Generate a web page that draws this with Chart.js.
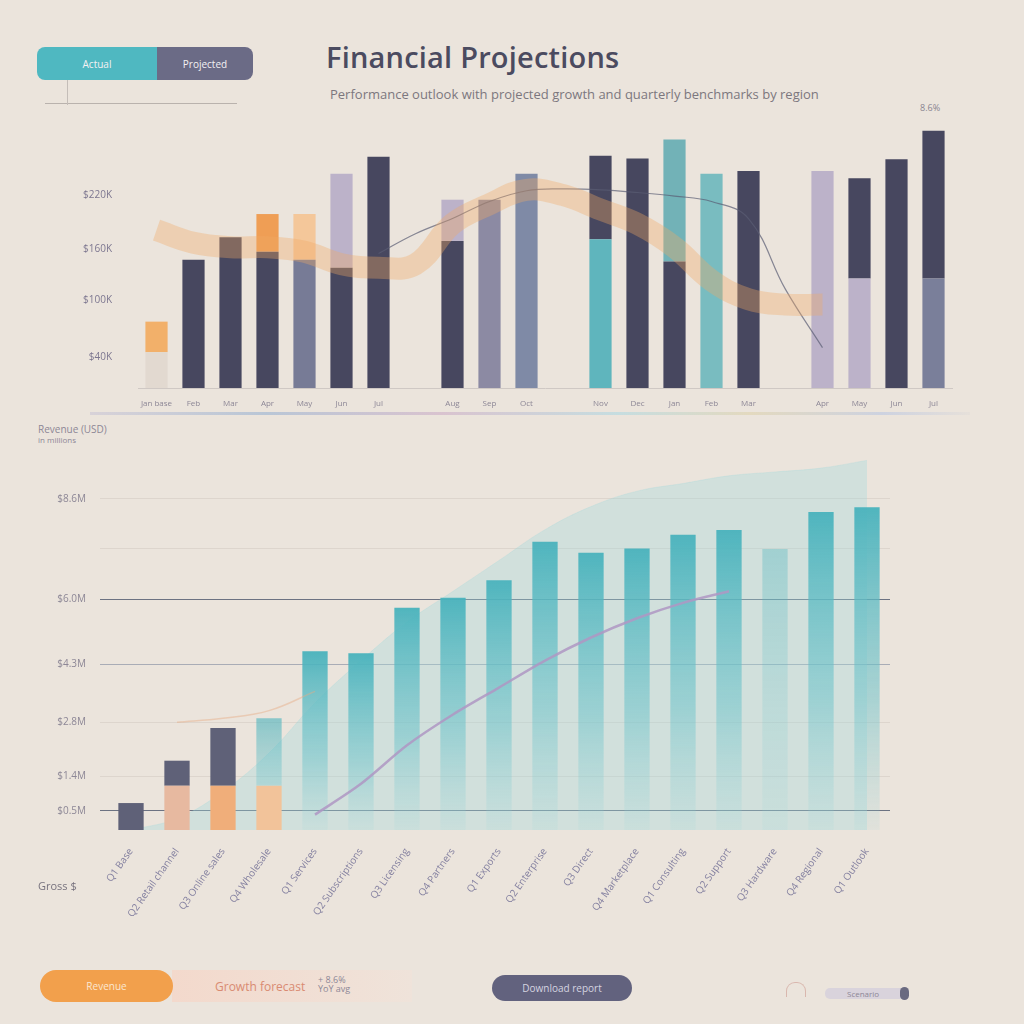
<!DOCTYPE html>
<html>
<head>
<meta charset="utf-8">
<script src="https://cdn.jsdelivr.net/npm/chart.js@4.4.1/dist/chart.umd.min.js"></script>
<style>
    body { margin: 0; width: 1024px; height: 1024px; background: #ebe4dc; font-family: "Open Sans", "Noto Sans", sans-serif; overflow: hidden; position: relative; }
    .abs { position: absolute; }
    .pill { position: absolute; color: #f4f1f3; font-size: 10px; display: flex; align-items: center; justify-content: center; }
    #title { left: 326px; top: 37px; font-size: 29px; font-weight: 600; color: #4b4b60; letter-spacing: 0.2px; white-space: nowrap; }
    #subtitle { left: 330px; top: 85px; font-size: 13px; color: #7c777e; white-space: nowrap; }
    #topWrap { left: 30px; top: 95px; width: 950px; height: 320px; }
    #botWrap { left: 20px; top: 425px; width: 900px; height: 530px; }
</style>
</head>
<body>

<!-- header -->
<div class="pill" style="left:37px;top:47px;width:120px;height:33px;background:#4fb8c1;border-radius:8px 0 0 8px;">Actual</div>
<div class="pill" style="left:157px;top:47px;width:96px;height:33px;background:#6b6b86;border-radius:0 8px 8px 0;">Projected</div>
<div class="abs" style="left:45px;top:103px;width:192px;height:1px;background:#b9b2ad;"></div>
<div class="abs" style="left:67px;top:80px;width:1px;height:25px;background:#c4bdb8;"></div>
<div class="abs" id="title">Financial Projections</div>
<div class="abs" id="subtitle">Performance outlook with projected growth and quarterly benchmarks by region</div>
<div class="abs" style="left:920px;top:101px;font-size:9px;color:#8a8490;">8.6%</div>

<div class="abs" id="topWrap"><canvas id="topChart"></canvas></div>
<div class="abs" style="left:90px;top:412px;width:880px;height:3px;background:linear-gradient(90deg,#d8d2d8,#b9c6d6 20%,#d9c3cf 40%,#c6dde0 60%,#e3d9bf 75%,#cdd2e0 90%,#e6e0da);"></div>

<div class="abs" style="left:38px;top:424px;font-size:10px;color:#8d8796;line-height:10px;">Revenue (USD)<br><span style="font-size:8px">in millions</span></div>
<div class="abs" id="botWrap"><canvas id="botChart"></canvas></div>
<div class="abs" style="left:38px;top:878px;font-size:11px;color:#77727e;">Gross $</div>

<!-- footer -->
<div class="abs" style="left:172px;top:970px;width:240px;height:32px;background:linear-gradient(90deg,#f3d9cc,#efe3da);"></div>
<div class="pill" style="left:40px;top:970px;width:133px;height:32px;background:#f2a04c;border-radius:16px;color:#fbe7d2;">Revenue</div>
<div class="abs" style="left:215px;top:978px;font-size:12px;color:#d98b72;">Growth forecast</div>
<div class="abs" style="left:318px;top:975px;font-size:9px;color:#8d8796;line-height:9px;">+ 8.6%<br>YoY avg</div>
<div class="pill" style="left:492px;top:975px;width:140px;height:26px;background:#62627e;border-radius:13px;color:#d5d4e0;">Download report</div>
<div class="abs" style="left:786px;top:982px;width:18px;height:14px;border:1.5px solid #d9b7ae;border-bottom:none;border-radius:9px 9px 0 0;"></div>
<div class="abs" style="left:825px;top:988px;width:83px;height:11px;background:#d9d3dc;border-radius:5px;font-size:8px;color:#8d8796;line-height:11px;text-indent:22px;">Scenario</div>
<div class="abs" style="left:900px;top:987px;width:9px;height:13px;background:#6a6a80;border-radius:5px;"></div>

<script>
// ────────────────────────────────────────
// Data — top chart (monthly revenue mix)
// ────────────────────────────────────────
const topLabels = ['Jan base', 'Feb', 'Mar', 'Apr', 'May', 'Jun', 'Jul', '', 'Aug', 'Sep', 'Oct', '', 'Nov', 'Dec', 'Jan', 'Feb', 'Mar', '', 'Apr', 'May', 'Jun', 'Jul'];
const topLower = [40, 143, 168, 152, 143, 134, 258, null, 164, 210, 239, null, 166, 256, 141, 239, 242, null, 242, 122, 255, 122];
const topUpper = [34, 0, 0, 42, 51, 105, 0, null, 46, 0, 0, null, 93, 0, 136, 0, 0, null, 0, 112, 0, 165];
const topTrend = [176, 162, 157, 157, 152, 138, 134, 138, 183, 205, 221, 215, 199, 183, 157, 120, 99, 93, 93, null, null, null];
const topForecast = [null, null, null, null, null, null, 150, 172, 189, 208, 220, 222, 221, 218, 214, 208, 189, 110, 45, null, null, null];
const topTickValues = [34, 98, 155, 215];
const topTickLabels = ['$40K', '$100K', '$160K', '$220K'];

// ────────────────────────────────────────
// Data — bottom chart (cumulative projection)
// ────────────────────────────────────────
const botLabels = ['Q1 Base', 'Q2 Retail channel', 'Q3 Online sales', 'Q4 Wholesale', 'Q1 Services', 'Q2 Subscriptions',
    'Q3 Licensing', 'Q4 Partners', 'Q1 Exports', 'Q2 Enterprise', 'Q3 Direct', 'Q4 Marketplace',
    'Q1 Consulting', 'Q2 Support', 'Q3 Hardware', 'Q4 Regional', 'Q1 Outlook'];
const botLower = [0, 11.5, 11.5, 11.5, 0, 0, 0, 0, 0, 0, 0, 0, 0, 0, 0, 0, 0];
const botUpper = [7, 6.5, 15, 17.5, 46.4, 45.9, 57.7, 60.3, 64.9, 74.9, 72, 73.1, 76.7, 77.9, 73, 82.6, 83.8];
const botArea = [0, 3, 10, 20, 33, 44, 54, 62, 70, 78, 84, 88, 90, 92, 93, 94, 96];
const botGrowth = [null, null, null, null, 4, 12, 22, 30, 37, 44, 50, 55, 59, 62, null, null, null];
const botWarm = [null, 28, 29, 31, 36, null, null, null, null, null, null, null, null, null, null, null, null];
const botTickValues = [5, 14, 28, 43, 60, 73, 86];
const botTickLabels = ['$0.5M', '$1.4M', '$2.8M', '$4.3M', '$6.0M', '', '$8.6M'];

// styles
const DARK = '#47475f', LAV = '#bcb2c9', TEAL = '#5fb5bd', GRAY = '#7a7f9a';
const topLowerColors = ['#e2d9d0', DARK, DARK, DARK, '#777b96', DARK, DARK, DARK, DARK, '#8c8aa3', '#7f8aa6', DARK,
    TEAL, DARK, DARK, '#79bcc0', DARK, DARK, LAV, LAV, DARK, GRAY];
const topUpperColors = ['#f2b06a', DARK, DARK, '#ef9e55', '#f4c79a', LAV, DARK, DARK, LAV, DARK, DARK, DARK,
    DARK, DARK, '#72b2b7', DARK, DARK, DARK, DARK, DARK, DARK, DARK];

Chart.defaults.font.family = '"Open Sans", "Noto Sans", sans-serif';
Chart.defaults.animation = false;

new Chart(document.getElementById('topChart'), {
    data: {
        labels: topLabels,
        datasets: [
            {
                type: 'line', label: 'Trend', data: topTrend, order: 0, stack: 'trend',
                borderColor: 'rgba(242, 170, 100, 0.35)', borderWidth: 22, tension: 0.4,
                pointRadius: 0, spanGaps: true,
            },
            {
                type: 'line', label: 'Forecast', data: topForecast, order: 0, stack: 'forecast',
                borderColor: 'rgba(90, 92, 115, 0.7)', borderWidth: 1.2, tension: 0.4,
                pointRadius: 0, spanGaps: true,
            },
            {
                type: 'bar', label: 'Core', data: topLower, order: 1,
                backgroundColor: topLowerColors, stack: 's',
                barPercentage: 0.6, categoryPercentage: 1,
            },
            {
                type: 'bar', label: 'Growth', data: topUpper, order: 1,
                backgroundColor: topUpperColors, stack: 's',
                barPercentage: 0.6, categoryPercentage: 1,
            },
        ],
    },
    options: {
        responsive: true,
        maintainAspectRatio: false,
        layout: { padding: { top: 10, right: 28, bottom: 3 } },
        plugins: { legend: { display: false }, tooltip: { enabled: false } },
        scales: {
            x: {
                stacked: true,
                grid: { display: false },
                border: { color: '#cfc8c4' },
                ticks: { font: { size: 8 }, color: '#8d8796', maxRotation: 0, autoSkip: false },
                afterFit: s => { s.height = 24; },
            },
            y: {
                stacked: true, min: 0, max: 300,
                grid: { display: false },
                border: { display: false },
                afterBuildTicks: s => { s.ticks = topTickValues.map(v => ({ value: v })); },
                ticks: {
                    font: { size: 10 }, color: '#7d7790', padding: 18,
                    callback: v => topTickLabels[topTickValues.indexOf(v)] ?? '',
                },
                afterFit: s => { s.width = 108; },
            },
        },
    },
});

// bar fill fading downward, computed from the bar's own top pixel
function tealFade(ctx) {
    const chart = ctx.chart;
    const area = chart.chartArea;
    if (!area) return TEAL;
    const i = ctx.dataIndex;
    if (i < 3) return '#5f6178';
    const top = chart.scales.y.getPixelForValue(botLower[i] + botUpper[i]);
    const g = chart.ctx.createLinearGradient(0, top, 0, area.bottom);
    const a = i === 14 ? 0.35 : (i === 3 ? 0.6 : 0.95);
    g.addColorStop(0, `rgba(72, 178, 188, ${a})`);
    g.addColorStop(0.6, `rgba(110, 195, 202, ${a * 0.55})`);
    g.addColorStop(1, 'rgba(150, 210, 214, 0.12)');
    return g;
}

const botLowerColors = ['#e3dad2', '#e7b9a0', '#f0ae7a', '#f2c39a'];

new Chart(document.getElementById('botChart'), {
    data: {
        labels: botLabels,
        datasets: [
            {
                type: 'line', label: 'Projection', data: botArea, order: 3, stack: 'area',
                borderColor: 'rgba(160, 215, 220, 0.25)', borderWidth: 1,
                backgroundColor: 'rgba(160, 218, 222, 0.35)', fill: 'start',
                tension: 0.4, pointRadius: 0,
            },
            {
                type: 'line', label: 'Growth', data: botGrowth, order: 0, stack: 'growth',
                borderColor: 'rgba(175, 150, 195, 0.85)', borderWidth: 2.5, tension: 0.3,
                pointRadius: 0,
            },
            {
                type: 'line', label: 'Costs', data: botWarm, order: 0, stack: 'costs',
                borderColor: 'rgba(230, 170, 130, 0.45)', borderWidth: 1.5, tension: 0.4,
                pointRadius: 0,
            },
            {
                type: 'bar', label: 'Base', data: botLower, order: 1, stack: 's',
                backgroundColor: ctx => botLowerColors[ctx.dataIndex] || 'rgba(0,0,0,0)',
                barPercentage: 0.55, categoryPercentage: 1,
            },
            {
                type: 'bar', label: 'Revenue', data: botUpper, order: 1, stack: 's',
                backgroundColor: tealFade,
                barPercentage: 0.55, categoryPercentage: 1,
            },
        ],
    },
    options: {
        responsive: true,
        maintainAspectRatio: false,
        layout: { padding: { top: 15, right: 30, bottom: 5 } },
        plugins: { legend: { display: false }, tooltip: { enabled: false } },
        scales: {
            x: {
                stacked: true,
                grid: { display: false },
                border: { display: false },
                ticks: { font: { size: 10 }, color: '#8480a0', maxRotation: 55, minRotation: 55, autoSkip: false, padding: 8 },
                afterFit: s => { s.height = 120; },
            },
            y: {
                stacked: true, min: 0, max: 100,
                border: { display: false },
                grid: {
                    color: ctx => {
                        const v = ctx.tick && ctx.tick.value;
                        if (v === 5 || v === 60) return '#6c7282';
                        if (v === 43) return '#a9acb6';
                        return '#ddd5cd';
                    },
                    lineWidth: 1,
                },
                afterBuildTicks: s => { s.ticks = botTickValues.map(v => ({ value: v })); },
                ticks: {
                    font: { size: 10 }, color: '#8d8796', padding: 14,
                    callback: v => botTickLabels[botTickValues.indexOf(v)] ?? '',
                },
                afterFit: s => { s.width = 88; },
            },
        },
    },
});
</script>
</body>
</html>
